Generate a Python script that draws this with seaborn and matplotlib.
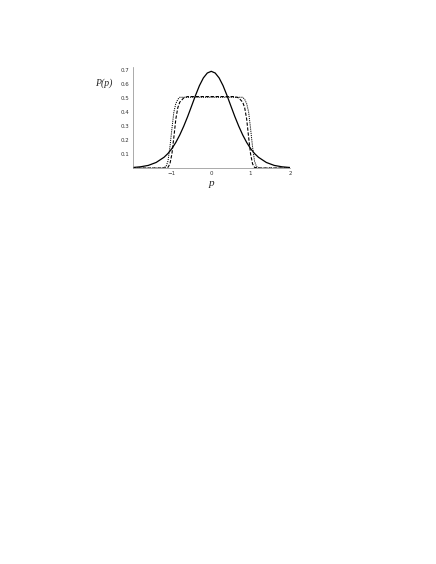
import numpy as np
import pandas as pd
import seaborn as sns
import matplotlib.pyplot as plt
from matplotlib.ticker import MultipleLocator

# solid curve (bell shape)
x_solid = [-2.0, -1.8, -1.6, -1.4, -1.2, -1.1, -1.0, -0.9, -0.8, -0.7, -0.6, -0.5, -0.4, -0.3, -0.2, -0.1, 0.0,
           0.1, 0.2, 0.3, 0.4, 0.5, 0.6, 0.7, 0.8, 0.9, 1.0, 1.1, 1.2, 1.4, 1.6, 1.8, 2.0]
p_solid = [0.004, 0.009, 0.019, 0.040, 0.077, 0.104, 0.139, 0.183, 0.236, 0.298, 0.367, 0.442, 0.518, 0.588, 0.643, 0.678, 0.690,
           0.678, 0.643, 0.588, 0.518, 0.442, 0.367, 0.298, 0.236, 0.183, 0.139, 0.104, 0.077, 0.040, 0.019, 0.009, 0.004]

# dashed curve (plateau, softer edges)
x_dash = [-2.0, -1.2, -1.1, -1.05, -1.0, -0.95, -0.9, -0.85, -0.8, -0.7, -0.6, -0.5, 0.0,
          0.5, 0.6, 0.7, 0.8, 0.85, 0.9, 0.95, 1.0, 1.05, 1.1, 1.2, 2.0]
p_dash = [0.0, 0.0, 0.005, 0.03, 0.10, 0.22, 0.35, 0.43, 0.47, 0.50, 0.51, 0.51, 0.51,
          0.51, 0.51, 0.50, 0.47, 0.43, 0.35, 0.22, 0.10, 0.03, 0.005, 0.0, 0.0]

# dotted curve (plateau, sharper edges)
x_dot = [-2.0, -1.25, -1.15, -1.1, -1.05, -1.0, -0.95, -0.9, -0.85, -0.8, 0.0,
         0.8, 0.85, 0.9, 0.95, 1.0, 1.05, 1.1, 1.15, 1.25, 2.0]
p_dot = [0.0, 0.0, 0.01, 0.05, 0.15, 0.28, 0.40, 0.46, 0.49, 0.505, 0.505,
         0.505, 0.49, 0.46, 0.40, 0.28, 0.15, 0.05, 0.01, 0.0, 0.0]

sns.set_style("white")
plt.rcParams['font.family'] = ['DejaVu Sans']

fig = plt.figure(figsize=(4.36, 5.64), dpi=100)
ax = fig.add_axes([0.304, 0.702, 0.361, 0.179])

sns.lineplot(x=x_solid, y=p_solid, ax=ax, color='black', lw=0.9)
sns.lineplot(x=x_dash, y=p_dash, ax=ax, color='black', lw=0.8, linestyle=(0, (3.0, 1.5)))
sns.lineplot(x=x_dot, y=p_dot, ax=ax, color='black', lw=0.7, linestyle=(0, (1.2, 1.0)))

ax.set_xlim(-2, 2)
ax.set_ylim(0, 0.72)
ax.set_xticks([-1, 0, 1, 2])
ax.set_xticklabels(['\u22121', '0', '1', '2'])
ax.set_yticks([0.1, 0.2, 0.3, 0.4, 0.5, 0.6, 0.7])
ax.set_yticklabels(['0.1', '0.2', '0.3', '0.4', '0.5', '0.6', '0.7'])
ax.xaxis.set_minor_locator(MultipleLocator(0.2))
ax.yaxis.set_minor_locator(MultipleLocator(0.02))
ax.tick_params(axis='both', which='major', direction='in', length=2.2, width=0.5,
               colors='#888888', labelcolor='#333333', labelsize=4, pad=2)
ax.tick_params(axis='both', which='minor', direction='in', length=1.2, width=0.4, colors='#888888')

for s in ['top', 'right']:
    ax.spines[s].set_visible(False)
for s in ['left', 'bottom']:
    ax.spines[s].set_color('#888888')
    ax.spines[s].set_linewidth(0.5)

ax.set_xlabel('')
ax.set_ylabel('')
fig.text(104 / 436, 1 - 83 / 564, 'P(p)', family='Liberation Serif', style='italic',
         fontsize=7, ha='center', va='center')
fig.text(211 / 436, 1 - 183 / 564, 'p', family='Liberation Serif', style='italic',
         fontsize=8, ha='center', va='center')

plt.savefig('out.png', dpi=100)
